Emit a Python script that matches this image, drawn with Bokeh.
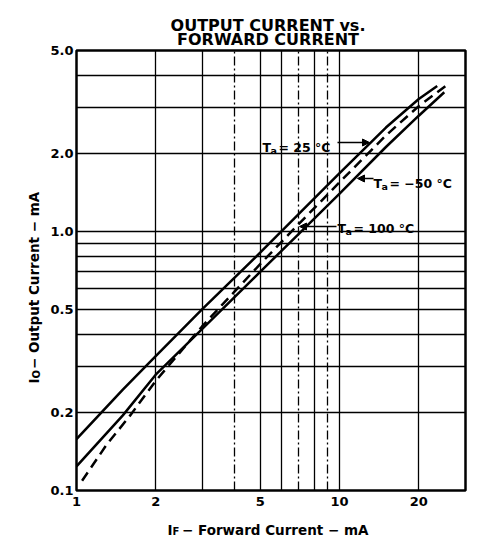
import math
from bokeh.plotting import figure
from bokeh.models import Range1d, FixedTicker, Grid, Label, Arrow, NormalHead
from bokeh.embed import file_html
from bokeh.resources import INLINE

# ---------------- data ----------------
# Ta = 25 degC (upper solid curve)
if_25 = [1.0, 1.5, 2.0, 3.0, 5.0, 7.0, 10.0, 15.0, 20.0, 23.5]
io_25 = [0.158, 0.245, 0.33, 0.50, 0.83, 1.17, 1.68, 2.52, 3.25, 3.65]

# Ta = -50 degC (lower solid curve)
if_m50 = [1.0, 1.5, 2.0, 3.0, 5.0, 7.0, 10.0, 15.0, 20.0, 25.0]
io_m50 = [0.124, 0.195, 0.28, 0.42, 0.70, 0.98, 1.40, 2.12, 2.80, 3.45]

# Ta = 100 degC (dashed curve)
if_100 = [1.05, 1.3, 1.6, 2.0, 3.0, 5.0, 7.0, 10.0, 15.0, 20.0, 25.7]
io_100 = [0.109, 0.15, 0.195, 0.265, 0.43, 0.75, 1.07, 1.55, 2.35, 3.05, 3.69]

x_ticks = [1, 2, 5, 10, 20]
x_tick_labels = ["1", "2", "5", "10", "20"]
y_ticks = [0.1, 0.2, 0.5, 1.0, 2.0, 5.0]
y_tick_labels = ["0.1", "0.2", "0.5", "1.0", "2.0", "5.0"]

x_grid_solid = [2, 3, 5, 6, 8, 10, 20]
x_grid_dashed = [4, 7, 9]
y_grid = [0.2, 0.3, 0.4, 0.5, 0.6, 0.7, 0.8, 0.9, 1.0, 2.0, 3.0, 4.0]

title_lines = ["OUTPUT CURRENT vs.", "FORWARD CURRENT"]
GAP = "\u2002\u2009"
x_label_main = "I" + GAP + "\u2212 Forward Current \u2212 mA"
x_label_sub = "F"
y_label_main = "I" + GAP + "\u2212 Output Current \u2212 mA"
y_label_sub = "O"
ta_labels = [("T", "a", "= 25 \u00b0C"), ("T", "a", "= \u221250 \u00b0C"), ("T", "a", "= 100 \u00b0C")]

# ---------------- layout (page pixel coordinates; canvas starts at 0,0) ----------------
W, H = 483, 538
FL, FT, FR, FB = 76, 50, 465, 490
FONT = "DejaVu Sans"

p = figure(width=W, height=H, x_axis_type="log", y_axis_type="log",
           x_range=Range1d(1, 30.1), y_range=Range1d(0.1, 5.0),
           output_backend="svg", toolbar_location=None,
           min_border_left=FL, min_border_right=W - FR,
           min_border_top=FT, min_border_bottom=H - FB)
p.title.visible = False
p.background_fill_color = "white"
p.border_fill_color = "white"
p.outline_line_color = "black"
p.outline_line_width = 2.5
p.xgrid.visible = False
p.ygrid.visible = False

# grids
p.add_layout(Grid(dimension=0, ticker=FixedTicker(ticks=x_grid_solid),
                  grid_line_color="black", grid_line_width=1.3))
p.add_layout(Grid(dimension=0, ticker=FixedTicker(ticks=x_grid_dashed),
                  grid_line_color="black", grid_line_width=1.3, grid_line_dash="9 3 2 3"))
p.add_layout(Grid(dimension=1, ticker=FixedTicker(ticks=y_grid),
                  grid_line_color="black", grid_line_width=1.3))

# axes
for ax, ticks, labels in ((p.xaxis[0], x_ticks, x_tick_labels), (p.yaxis[0], y_ticks, y_tick_labels)):
    ax.ticker = FixedTicker(ticks=ticks)
    ax.major_label_overrides = {t: l for t, l in zip(ticks, labels)}
    ax.axis_line_color = None
    ax.major_tick_line_color = None
    ax.minor_tick_line_color = None
    ax.major_tick_in = 0
    ax.major_tick_out = 0
    ax.minor_tick_in = 0
    ax.minor_tick_out = 0
    ax.major_label_text_font = FONT
    ax.major_label_text_font_style = "bold"
    ax.major_label_text_font_size = "13px"
    ax.major_label_text_color = "black"
p.xaxis.major_label_standoff = 6
p.yaxis.major_label_standoff = 3

# curves
p.line(if_25, io_25, line_color="black", line_width=2.5)
p.line(if_m50, io_m50, line_color="black", line_width=2.5)
p.line(if_100, io_100, line_color="black", line_width=2.5, line_dash="10 6")


def outer_lab(text, cx, cy, size, side, align="left", angle=0.0):
    """Text outside the frame, placed in canvas pixels."""
    p.add_layout(Label(x=cx, y=cy, x_units="canvas", y_units="canvas",
                       text=text, text_font=FONT, text_font_size=f"{size}px",
                       text_font_style="bold", text_align=align,
                       text_baseline="alphabetic", angle=angle, text_color="black"), side)


def inner_lab(text, cx, cy, size):
    p.add_layout(Label(x=cx - FL, y=FB - cy, x_units="screen", y_units="screen",
                       text=text, text_font=FONT, text_font_size=f"{size}px",
                       text_font_style="bold", text_align="left",
                       text_baseline="alphabetic", text_color="black"))


# title
outer_lab(title_lines[0], 267.5, 25, 16, "above", align="center")
outer_lab(title_lines[1], 267.5, 39, 16, "above", align="center")

# x axis label
outer_lab(x_label_main, 167, 529, 13.5, "below")
outer_lab(x_label_sub, 172, 531, 10, "right")

# y axis label (rotated)
outer_lab(y_label_main, 33, 383, 13.5, "left", angle=math.pi / 2)
outer_lab(y_label_sub, 36, 378, 10, "left", angle=math.pi / 2)

# Ta annotations
ta_pos = [(262, 147), (373, 183), (337, 228)]
for (t, s, rest), (cx, cy) in zip(ta_labels, ta_pos):
    inner_lab(t, cx, cy, 12.5)
    inner_lab(s, cx + 8, cy + 3, 9.5)
    inner_lab(rest, cx + 16, cy, 12.5)

arrows = [((337, 142), (369, 142)), ((373, 178), (357, 178)), ((336, 226), (299, 226))]
for (x0, y0), (x1, y1) in arrows:
    p.add_layout(Arrow(x_start=x0 - FL, y_start=FB - y0, x_end=x1 - FL, y_end=FB - y1,
                       start_units="screen", end_units="screen",
                       line_color="black", line_width=1.5,
                       end=NormalHead(size=7, fill_color="black", line_color="black")))

open("out.html", "w").write(file_html(p, INLINE))
